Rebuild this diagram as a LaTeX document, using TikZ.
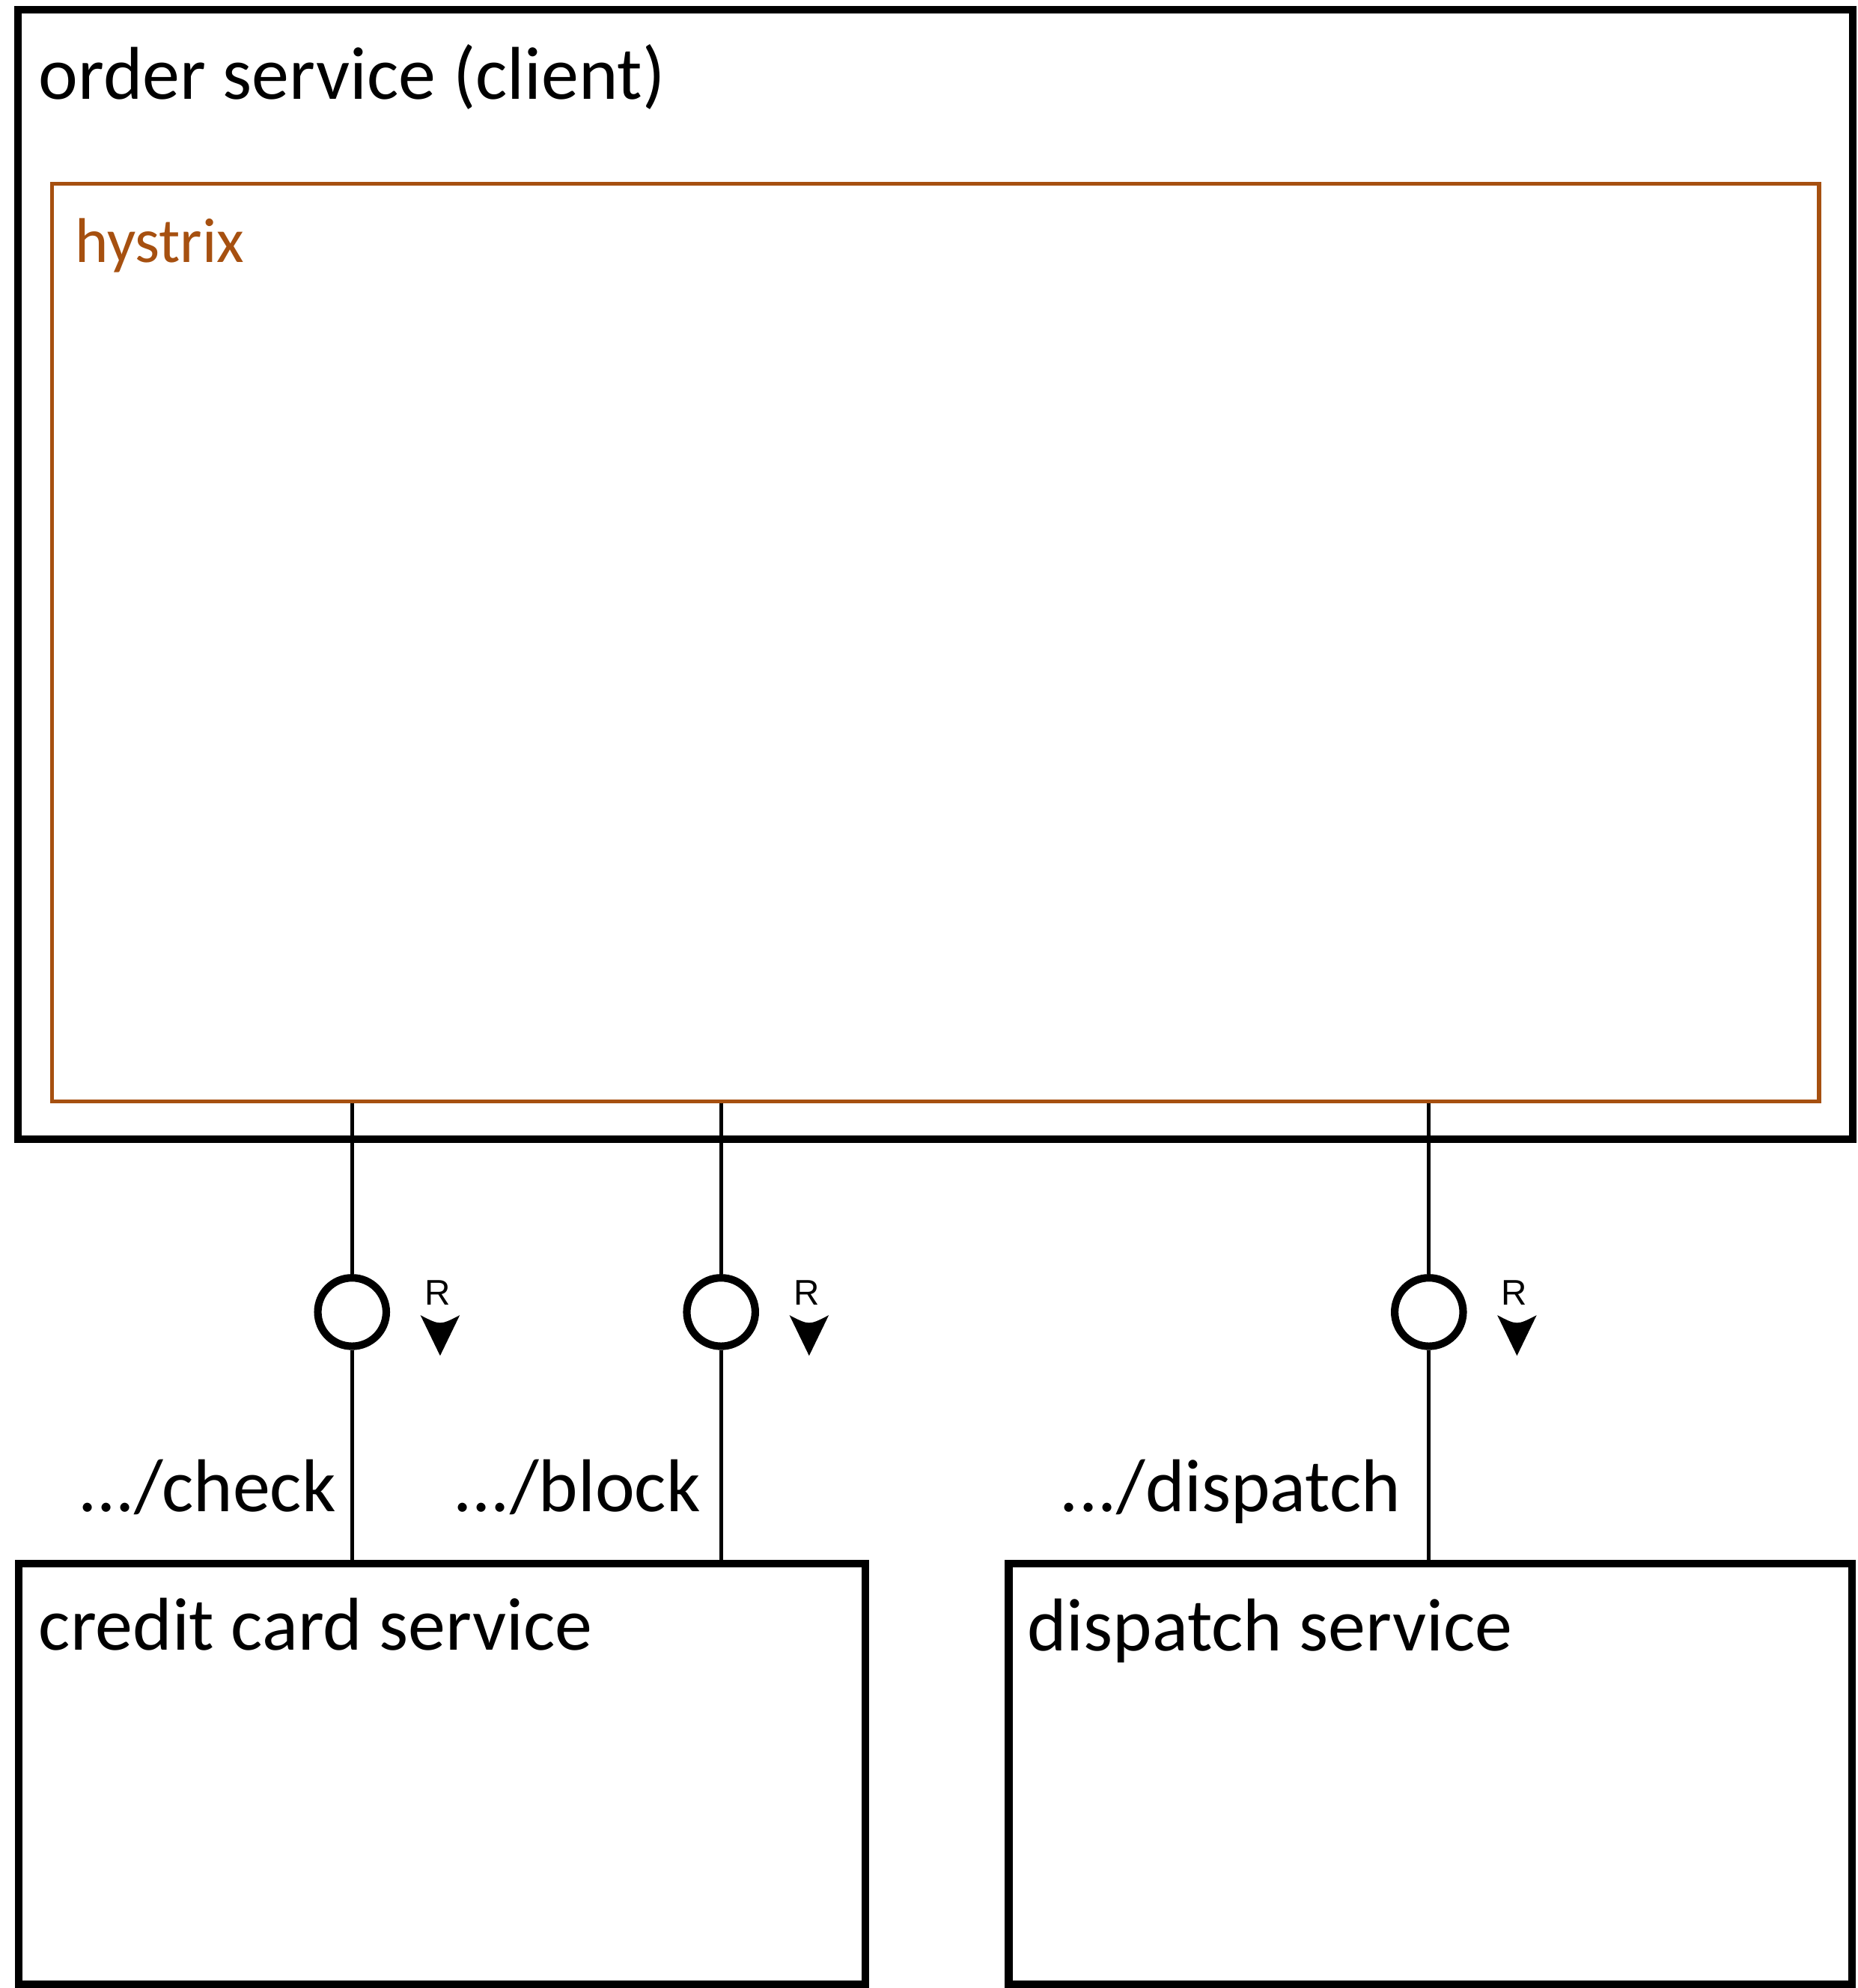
\documentclass[tikz,border=0pt]{standalone}
\usepackage{fontspec}
\setmainfont{Carlito}
\newfontfamily\rfont{Liberation Sans}
\definecolor{hystrixbrown}{RGB}{166,80,16}

\begin{document}
\begin{tikzpicture}[
	service/.style={draw, line width=0.06cm, inner sep=0pt, anchor=north west},
	iface/.style={draw, circle, line width=0.06cm, fill=white, minimum size=0.54cm, inner sep=0pt},
	link/.style={line width=0.03cm},
	title/.style={anchor=base west, inner sep=0pt, font=\fontsize{16.8}{20}\selectfont},
	]
	\useasboundingbox (0,0) rectangle (14.66,-15.69);

	\node[service, minimum width=14.48cm, minimum height=8.915cm] (order) at (0.11,-0.045) {};
	\node[draw=hystrixbrown, line width=0.03cm, inner sep=0pt, anchor=north west, minimum width=13.945cm, minimum height=7.245cm] (hystrix) at (0.395,-1.435) {};
	\node[service, minimum width=6.68cm, minimum height=3.32cm] (credit) at (0.12,-12.31) {};
	\node[service, minimum width=6.655cm, minimum height=3.32cm] (dispatch) at (7.93,-12.31) {};

	\node[title] (ordertext) at (0.30,-0.78) {order service (client)};
	\node[title, text=hystrixbrown, font=\fontsize{14.2}{16}\selectfont] (hystrixtext) at (0.585,-2.07) {hystrix};
	\node[title] (credittext) at (0.30,-13.02) {credit card service};
	\node[title] (dispatchtext) at (8.10,-13.03) {dispatch service};

	\foreach \n/\x/\g/\to in {check/2.778/0.12/credit, block/5.69/0.155/credit, dispatch/11.276/0.215/dispatch} {
		\node[iface] (if\n) at (\x,-10.355) {};
		\draw[link] (if\n) -- (if\n |- hystrix.south);
		\draw[link] (if\n) -- (if\n |- \to.north);
		\node[anchor=base, inner sep=0pt, font=\rfont\fontsize{8}{10}\selectfont] (r\n) at ({\x+0.675},-10.30) {R};
		\fill ({\x+0.54},-10.38) .. controls ({\x+0.695},-10.46) .. ({\x+0.85},-10.38) -- ({\x+0.695},-10.70) -- cycle;
		\node[title, anchor=base east] (lbl\n) at ({\x-\g},-11.93) {.../\n};
	}
\end{tikzpicture}
\end{document}
